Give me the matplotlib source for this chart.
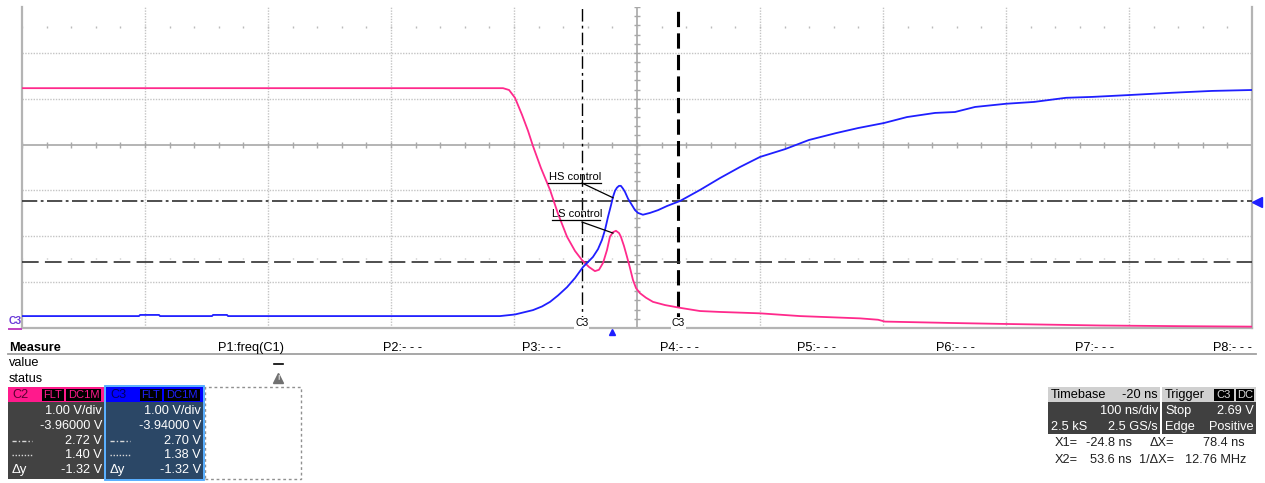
import numpy as np
import matplotlib
matplotlib.use("Agg")
import matplotlib.pyplot as plt
from matplotlib.patches import Rectangle
from matplotlib.lines import Line2D

# ---------------- data ----------------
# time in ns, voltage in V
c2_t = [-480, -88.9, -84.0, -79.2, -73.5, -68.6, -64.6, -58.1, -50.7, -44.2, -36.9, -30.4,
        -24.7, -19.0, -14.2, -10.9, -7.6, -4.4, -2.0, 0.5, 2.9, 5.4, 6.9, 9.4, 11.9, 14.3,
        16.7, 19.2, 22.4, 27.3, 33.0, 42.8, 55.0, 71.2, 87.5, 120.0, 152.5, 201.3, 216.0,
        221.6, 274.5, 315.0, 396.4, 461.5, 520.0]
c2_v = [5.19, 5.19, 5.15, 4.98, 4.61, 4.26, 3.93, 3.45, 2.97, 2.45, 1.95, 1.64,
        1.44, 1.29, 1.20, 1.23, 1.38, 1.66, 1.95, 2.05, 2.08, 2.03, 1.95, 1.75, 1.51, 1.27,
        1.01, 0.83, 0.72, 0.62, 0.53, 0.46, 0.40, 0.33, 0.31, 0.28, 0.22, 0.17, 0.14,
        0.10, 0.07, 0.05, 0.015, 0.00, -0.01]

c3_t = [-480, -384.9, -384.0, -368.6, -367.8, -325.5, -324.7, -313.3, -312.5, -91.4, -79.2,
        -64.6, -57.2, -50.7, -44.2, -36.9, -30.4, -23.9, -19.8, -15.8, -11.7, -8.5, -6.0,
        -3.6, -1.1, 0.5, 2.1, 3.7, 5.4, 6.9, 8.6, 10.2, 12.7, 15.9, 18.4, 20.8, 24.8, 30.6,
        37.1, 44.4, 55.0, 71.2, 87.5, 103.7, 120.0, 140.3, 159.8, 181.8, 199.7, 220.8,
        239.5, 262.3, 278.5, 294.8, 320.0, 342.8, 368.8, 390.7, 420.0, 455.0, 487.5, 520.0]
c3_v = [0.20, 0.20, 0.225, 0.225, 0.20, 0.20, 0.225, 0.225, 0.20, 0.20, 0.235,
        0.33, 0.41, 0.51, 0.65, 0.83, 1.03, 1.27, 1.38, 1.49, 1.66, 1.86, 2.08,
        2.36, 2.62, 2.80, 2.93, 3.00, 3.04, 3.04, 2.98, 2.91, 2.76, 2.62, 2.51, 2.45, 2.41, 2.45,
        2.51, 2.60, 2.71, 2.95, 3.21, 3.45, 3.67, 3.84, 4.04, 4.19, 4.30, 4.41,
        4.54, 4.63, 4.65, 4.76, 4.83, 4.87, 4.96, 4.98, 5.02, 5.07, 5.11, 5.13]

c2_offset = 3.96          # V at screen centre (channel offset -3.96 V)
c3_offset = 3.94
volts_per_div = 1.0
ns_per_div = 100.0
time_centre = 20.0        # ns (timebase delay -20 ns)

cursor_x1 = -24.8
cursor_x2 = 53.6
c3_cursor_y1 = 2.70
c3_cursor_y2 = 1.38
trigger_level = 2.69

meas_labels = ["P1:freq(C1)", "P2:- - -", "P3:- - -", "P4:- - -", "P5:- - -",
               "P6:- - -", "P7:- - -", "P8:- - -"]
c2_rows = ["1.00 V/div", "-3.96000 V", "2.72 V", "1.40 V", "-1.32 V"]
c3_rows = ["1.00 V/div", "-3.94000 V", "2.70 V", "1.38 V", "-1.32 V"]

# ---------------- figure ----------------
W, H = 1265, 483
FS = 9.2
plt.rcParams['font.family'] = ['Liberation Sans', 'DejaVu Sans']
plt.rcParams['lines.scale_dashes'] = False

fig = plt.figure(figsize=(W / 100, H / 100), dpi=100)
fig.patch.set_facecolor('white')


def P(x, y):
    return (x / W, 1 - y / H)


def rect(x0, y0, x1, y1, fc, ec='none', lw=0, ls='-', z=1):
    r = Rectangle(P(x0, y1), (x1 - x0) / W, (y1 - y0) / H, transform=fig.transFigure,
                  fc=fc, ec=ec, lw=lw, ls=ls, zorder=z)
    fig.add_artist(r)


def ftxt(x, y, s, **kw):
    kw.setdefault('fontsize', FS)
    kw.setdefault('va', 'center')
    fig.text(*P(x, y), s, **kw)


def fline(xs, ys, **kw):
    fig.add_artist(Line2D([x / W for x in xs], [1 - y / H for y in ys],
                          transform=fig.transFigure, **kw))


ax = fig.add_axes([22 / W, (H - 328) / H, 1230 / W, 321 / H])
x_lo = time_centre - 5 * ns_per_div
x_hi = time_centre + 5 * ns_per_div
ax.set_xlim(x_lo, x_hi)
ax.set_ylim(-4, 3)
ax.set_xticks([])
ax.set_yticks([])
ax.spines['top'].set_visible(False)
for s in ['left', 'right', 'bottom']:
    ax.spines[s].set_color('#b4b4b4')
    ax.spines[s].set_linewidth(1.6)

gcol = '#c4c4c4'
for k in range(1, 10):
    t = x_lo + k * ns_per_div
    if k != 5:
        ax.axvline(t, color=gcol, lw=1.0, ls=(0, (1, 1)), zorder=1)
for d in [-3, -2, -1, 1, 2]:
    ax.axhline(d, color=gcol, lw=1.0, ls=(0, (1, 1)), zorder=1)
acol = '#a8a8a8'
ax.axhline(0, color=acol, lw=1.2, zorder=1)
ax.axvline(time_centre, color=acol, lw=1.2, zorder=1)
minor_t = np.arange(x_lo, x_hi + 1, ns_per_div / 5)
ax.vlines(minor_t, -0.065, 0.065, color=acol, lw=1.0, zorder=1)
minor_d = np.arange(-4, 3.01, 0.2)
ax.hlines(minor_d, time_centre - 2.6, time_centre + 2.6, color=acol, lw=1.0, zorder=1)
ax.vlines(minor_t, 2.55, 2.58, color='#bbbbbb', lw=1.0, zorder=1)
ax.vlines(minor_t, -2.50, -2.47, color='#bbbbbb', lw=1.0, zorder=1)

# traces
c2_div = [(v - c2_offset) / volts_per_div for v in c2_v]
c3_div = [(v - c3_offset) / volts_per_div for v in c3_v]
ax.plot(c2_t, c2_div, color='#ff2a8c', lw=1.3, zorder=4)
ax.plot(c3_t, c3_div, color='#1f1fff', lw=1.3, zorder=5)

# cursors
ax.axvline(cursor_x1, color='black', lw=1.0, dashes=(9, 3, 2, 3), zorder=3)
ax.axvline(cursor_x2, color='black', lw=2.2, dashes=(11, 4.5), zorder=3)
ax.axhline((c3_cursor_y1 - c3_offset) / volts_per_div, color='#303030', lw=1.2,
           dashes=(11, 2.5, 2, 2.5), zorder=3)
ax.axhline((c3_cursor_y2 - c3_offset) / volts_per_div, color='#303030', lw=1.2,
           dashes=(12, 4.5), zorder=3)
for cx in [cursor_x1, cursor_x2]:
    ax.text(cx, -3.89, 'C3', ha='center', va='center', fontsize=7.5, zorder=6,
            bbox=dict(fc='white', ec='none', pad=0.6))

# annotations
ax.text(-51.6, -0.71, 'HS control', fontsize=8, ha='left', va='center', zorder=6)
ax.plot([-52, -9.4], [-0.84, -0.84], color='black', lw=0.9, zorder=6)
ax.plot([-24.7, 0.5], [-0.84, -1.16], color='black', lw=0.9, zorder=6)
ax.text(-49.1, -1.51, 'LS control', fontsize=8, ha='left', va='center', zorder=6)
ax.plot([-49.5, -10.2], [-1.64, -1.64], color='black', lw=0.9, zorder=6)
ax.plot([-24.7, 0.5], [-1.69, -1.93], color='black', lw=0.9, zorder=6)

# markers around the grid
ftxt(15, 321.5, 'C3', fontsize=7.5, fontweight='bold', color='#6a3ad8', ha='center')
fline([9, 21], [329, 329], color='#c040c0', lw=1.4)
tl_y = 144.6 - (trigger_level - c3_offset) / volts_per_div * 45.86
fline([1257], [tl_y], marker='<', color='#1f1fff', ms=7, ls='none')
trig_x = 22 + (0 - x_lo) / (x_hi - x_lo) * 1230
fline([trig_x], [332], marker='^', color='#1f1fff', ms=5, ls='none')

# ---------------- measure panel ----------------
ftxt(9, 348, 'Measure', fontweight='bold')
fline([8, 1256], [354, 354], color='#a0a0a0', lw=1.3)
meas_x = [218, 383, 522, 660, 797, 936, 1075, 1213]
for lx, lab in zip(meas_x, meas_labels):
    ftxt(lx, 348, lab)
ftxt(9, 363, 'value')
ftxt(9, 379, 'status')
fline([274, 283], [364, 364], color='black', lw=1.2)
fline([278], [378], marker='^', color='#707070', ms=7, ls='none')
ftxt(278, 379, '!', fontsize=5, color='white', ha='center', fontweight='bold')

# C2 box
rect(8, 387, 104, 402, '#ff1a8c')
rect(8, 402, 104, 479, '#424242')
ftxt(12, 395, 'C2', color='#5a0030')
rect(42, 388.5, 64, 401, 'black', z=2)
ftxt(53, 395, 'FLT', color='#ff1a8c', ha='center', fontsize=8)
rect(66, 388.5, 101, 401, 'black', z=2)
ftxt(83.5, 395, 'DC1M', color='#ff1a8c', ha='center', fontsize=8)

# C3 box
rect(105, 386, 204, 480, 'none', ec='#4aa8ff', lw=1.3, z=3)
rect(106, 387, 203, 402, '#0000ff')
rect(106, 402, 203, 479, '#2b4766')
ftxt(110, 395, 'C3', color='#000060')
rect(140, 388.5, 162, 401, 'black', z=2)
ftxt(151, 395, 'FLT', color='#2020ff', ha='center', fontsize=8)
rect(164, 388.5, 200, 401, 'black', z=2)
ftxt(182, 395, 'DC1M', color='#2020ff', ha='center', fontsize=8)

row_y = [411, 426, 441, 455, 470]
for yy, a, b in zip(row_y, c2_rows, c3_rows):
    ftxt(102, yy, a, color='white', ha='right')
    ftxt(201, yy, b, color='white', ha='right')
for x0 in [12, 110]:
    fline([x0, x0 + 20], [441, 441], color='#d8d8d8', lw=1.0, dashes=(3, 1.5, 1, 1.5))
    fline([x0, x0 + 20], [455, 455], color='#d8d8d8', lw=1.0, dashes=(1, 1.2))
    ftxt(x0, 470, 'Δy', color='white', fontsize=9.5)

rect(205, 387, 301, 479, 'none', ec='#909090', lw=1.0, ls=(0, (2, 2)))

# timebase / trigger
rect(1048, 387, 1160, 402, '#d0d0d0')
rect(1048, 402, 1160, 434, '#404040')
ftxt(1051, 395, 'Timebase')
ftxt(1158, 395, '-20 ns', ha='right')
ftxt(1158, 411, '100 ns/div', ha='right', color='white')
ftxt(1051, 427, '2.5 kS', color='white')
ftxt(1158, 427, '2.5 GS/s', ha='right', color='white')

rect(1162, 387, 1256, 402, '#d0d0d0')
rect(1162, 402, 1256, 434, '#404040')
ftxt(1165, 395, 'Trigger')
rect(1214, 388.5, 1234, 401, 'black', z=2)
ftxt(1224, 395, 'C3', ha='center', color='#d8d8d8', fontsize=8)
rect(1236, 388.5, 1254, 401, 'black', z=2)
ftxt(1245, 395, 'DC', ha='center', color='#d8d8d8', fontsize=8)
ftxt(1165, 411, 'Stop', color='white')
ftxt(1254, 411, '2.69 V', ha='right', color='white')
ftxt(1165, 427, 'Edge', color='white')
ftxt(1254, 427, 'Positive', ha='right', color='white')

ftxt(1055, 443, 'X1=', color='#202020')
ftxt(1132, 443, '-24.8 ns', ha='right', color='#202020')
ftxt(1150, 443, 'ΔX=', color='#202020')
ftxt(1245, 443, '78.4 ns', ha='right', color='#202020')
ftxt(1055, 460, 'X2=', color='#202020')
ftxt(1132, 460, '53.6 ns', ha='right', color='#202020')
ftxt(1139, 460, '1/ΔX=', color='#202020')
ftxt(1246, 460, '12.76 MHz', ha='right', color='#202020')

fig.savefig('out.png', dpi=100)
